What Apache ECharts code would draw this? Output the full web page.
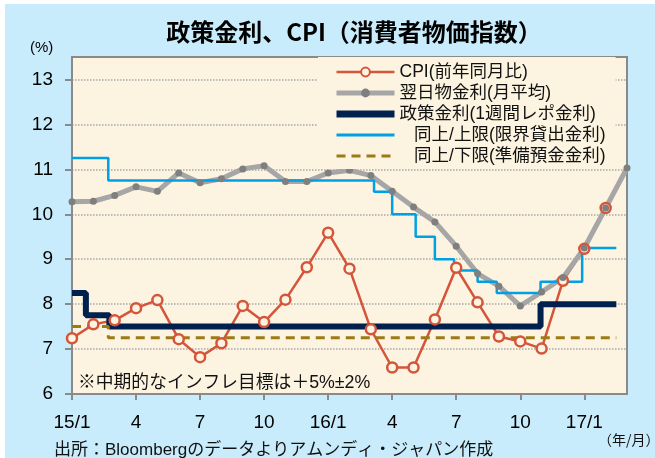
<!DOCTYPE html>
<html>
<head>
<meta charset="utf-8">
<script src="https://cdn.jsdelivr.net/npm/echarts@6/dist/echarts.min.js"></script>
<style>
  html, body { margin: 0; padding: 0; background: #fff; }
  #chart { width: 655px; height: 458px; }
</style>
</head>
<body>
<div id="chart"></div>
<script>
// 月インデックス (0 = 15/1 ... 26 = 17/3)
const months = [0, 1, 2, 3, 4, 5, 6, 7, 8, 9, 10, 11, 12, 13, 14, 15, 16, 17, 18, 19, 20, 21, 22, 23, 24, 25, 26];

// CPI(前年同月比) 15/1 - 17/2
const cpi = [7.24, 7.55, 7.64, 7.91, 8.09, 7.22, 6.82, 7.13, 7.96, 7.60, 8.10, 8.82, 9.59,
             8.79, 7.44, 6.59, 6.59, 7.66, 8.81, 8.04, 7.28, 7.17, 7.01, 8.52, 9.23, 10.14];

// 翌日物金利(月平均) 15/1 - 17/3
const overnight = [10.28, 10.29, 10.42, 10.61, 10.51, 10.92, 10.70, 10.79, 11.01, 11.08, 10.73, 10.73, 10.92,
                   10.98, 10.86, 10.51, 10.16, 9.83, 9.29, 8.68, 8.40, 7.96, 8.27, 8.59, 9.25, 10.14, 11.03];

// 政策金利と上限・下限 (変更時点, 金利)
const policyX = [0, 0.65, 1.75, 21.95, 25.5];
const policyRate = [8.25, 7.75, 7.5, 8.0, 8.0];
const upperX = [0, 1.7, 14.15, 15, 16.1, 17, 17.9, 19, 19.9, 21.95, 23.9, 25.5];
const upperRate = [11.25, 10.75, 10.5, 10.0, 9.5, 9.0, 8.75, 8.5, 8.25, 8.5, 9.25, 9.25];
const lowerX = [0, 1.7, 25.5];
const lowerRate = [7.5, 7.25, 7.25];

// 目盛
const xTickMonths = [0, 3, 6, 9, 12, 15, 18, 21, 24];
const xTickLabels = ['15/1', '4', '7', '10', '16/1', '4', '7', '10', '17/1'];
const yTicks = [6, 7, 8, 9, 10, 11, 12, 13];

const names = ['CPI(前年同月比)', '翌日物金利(月平均)', '政策金利(1週間レポ金利)', '同上/上限(限界貸出金利)', '同上/下限(準備預金金利)'];

const FONT = "'Liberation Sans', 'Noto Sans CJK JP', sans-serif";
const JP = "'Noto Sans CJK JP', sans-serif";
const cream = '#fcf4e1';
const red = '#d4553a', gray = '#a6a6a6', navy = '#00204e', blue = '#00a0e6', gold = '#9c7a14';

const zip = (xs, ys) => ys.map((y, i) => [xs[i], y]);
const noDot = { opacity: 0 };

const chart = echarts.init(document.getElementById('chart'));
const option = {
  animation: false,
  backgroundColor: '#c8ecfb',
  textStyle: { fontFamily: FONT },
  graphic: [
    { type: 'rect', shape: { x: 0, y: 0, width: 655, height: 4 }, style: { fill: '#fff' }, silent: true },
    { type: 'rect', shape: { x: 0, y: 0, width: 5, height: 458 }, style: { fill: '#fff' }, silent: true },
    {
      type: 'text', x: 354, y: 32,
      style: { text: '政策金利、CPI（消費者物価指数）', font: 'bold 24px ' + JP, fill: '#000', textAlign: 'center', textVerticalAlign: 'middle' }
    },
    { type: 'text', x: 30, y: 48, style: { text: '(%)', font: '15px ' + FONT, fill: '#000', textVerticalAlign: 'middle' } },
    { type: 'text', x: 78, y: 383, z: 10, style: { text: '※中期的なインフレ目標は＋5%±2%', font: '17.8px ' + FONT, fill: '#111', textVerticalAlign: 'middle' } },
    { type: 'text', x: 54, y: 450, style: { text: '出所：Bloombergのデータよりアムンディ・ジャパン作成', font: '17px ' + FONT, fill: '#111', textVerticalAlign: 'middle' } },
    { type: 'text', x: 598, y: 440, style: { text: '（年/月）', font: '14px ' + JP, fill: '#111', textVerticalAlign: 'middle' } }
  ],
  grid: {
    left: 72, right: 28, top: 57, bottom: 64,
    show: true, backgroundColor: cream, borderColor: '#8a8a8a', borderWidth: 2
  },
  legend: {
    data: [
      { name: names[0], lineStyle: { width: 2.5 } },
      { name: names[1], lineStyle: { width: 5 } },
      { name: names[2], itemStyle: noDot, lineStyle: { width: 7 } },
      { name: names[3], itemStyle: noDot, lineStyle: { width: 3 } },
      { name: names[4], itemStyle: noDot, lineStyle: { width: 3, type: [9, 6] } }
    ],
    orient: 'vertical',
    left: 318, top: 57,
    padding: [6, 10, 4, 15],
    backgroundColor: cream,
    itemWidth: 58, itemHeight: 11, itemGap: 3,
    formatter: name => name.startsWith('同上') ? '   ' + name : name,
    textStyle: { fontSize: 17.5, color: '#111', lineHeight: 18, fontFamily: FONT }
  },
  xAxis: {
    type: 'value', min: 0, max: 26, interval: 3,
    axisLine: { show: true, onZero: false, lineStyle: { color: '#8a8a8a', width: 2 } },
    axisTick: { show: true, customValues: xTickMonths, length: 6, lineStyle: { color: '#8a8a8a', width: 2 } },
    axisLabel: {
      customValues: xTickMonths,
      formatter: v => xTickLabels[xTickMonths.indexOf(v)] || '',
      fontSize: 19, color: '#000', margin: 19
    },
    splitLine: { show: false }
  },
  yAxis: {
    type: 'value', min: 6, max: 13.5, interval: 1,
    axisLine: { show: true, lineStyle: { color: '#8a8a8a', width: 2 } },
    axisTick: { show: true, customValues: yTicks, length: 7, lineStyle: { color: '#8a8a8a', width: 2 } },
    axisLabel: { customValues: yTicks, fontSize: 19, color: '#000', margin: 19 },
    splitLine: { show: true, lineStyle: { color: '#a8a8a8', type: 'dotted', width: 1.5 } }
  },
  series: [
    {
      name: names[0], type: 'line', data: zip(months, cpi),
      symbol: 'circle', symbolSize: 10,
      lineStyle: { color: red, width: 2.5 },
      itemStyle: { color: cream, borderColor: red, borderWidth: 2.5 }
    },
    {
      name: names[1], type: 'line', data: zip(months, overnight),
      symbol: 'circle', symbolSize: 7,
      lineStyle: { color: gray, width: 5 },
      itemStyle: { color: '#7f7f7f' }
    },
    {
      name: names[2], type: 'line', step: 'end', data: zip(policyX, policyRate),
      symbol: 'none',
      lineStyle: { color: navy, width: 6 },
      itemStyle: { color: navy }
    },
    {
      name: names[3], type: 'line', step: 'end', data: zip(upperX, upperRate),
      symbol: 'none',
      lineStyle: { color: blue, width: 2.5 },
      itemStyle: { color: blue }
    },
    {
      name: names[4], type: 'line', step: 'end', data: zip(lowerX, lowerRate),
      symbol: 'none',
      lineStyle: { color: gold, width: 3, type: [9, 6] },
      itemStyle: { color: gold }
    }
  ]
};
chart.setOption(option);
</script>
</body>
</html>
